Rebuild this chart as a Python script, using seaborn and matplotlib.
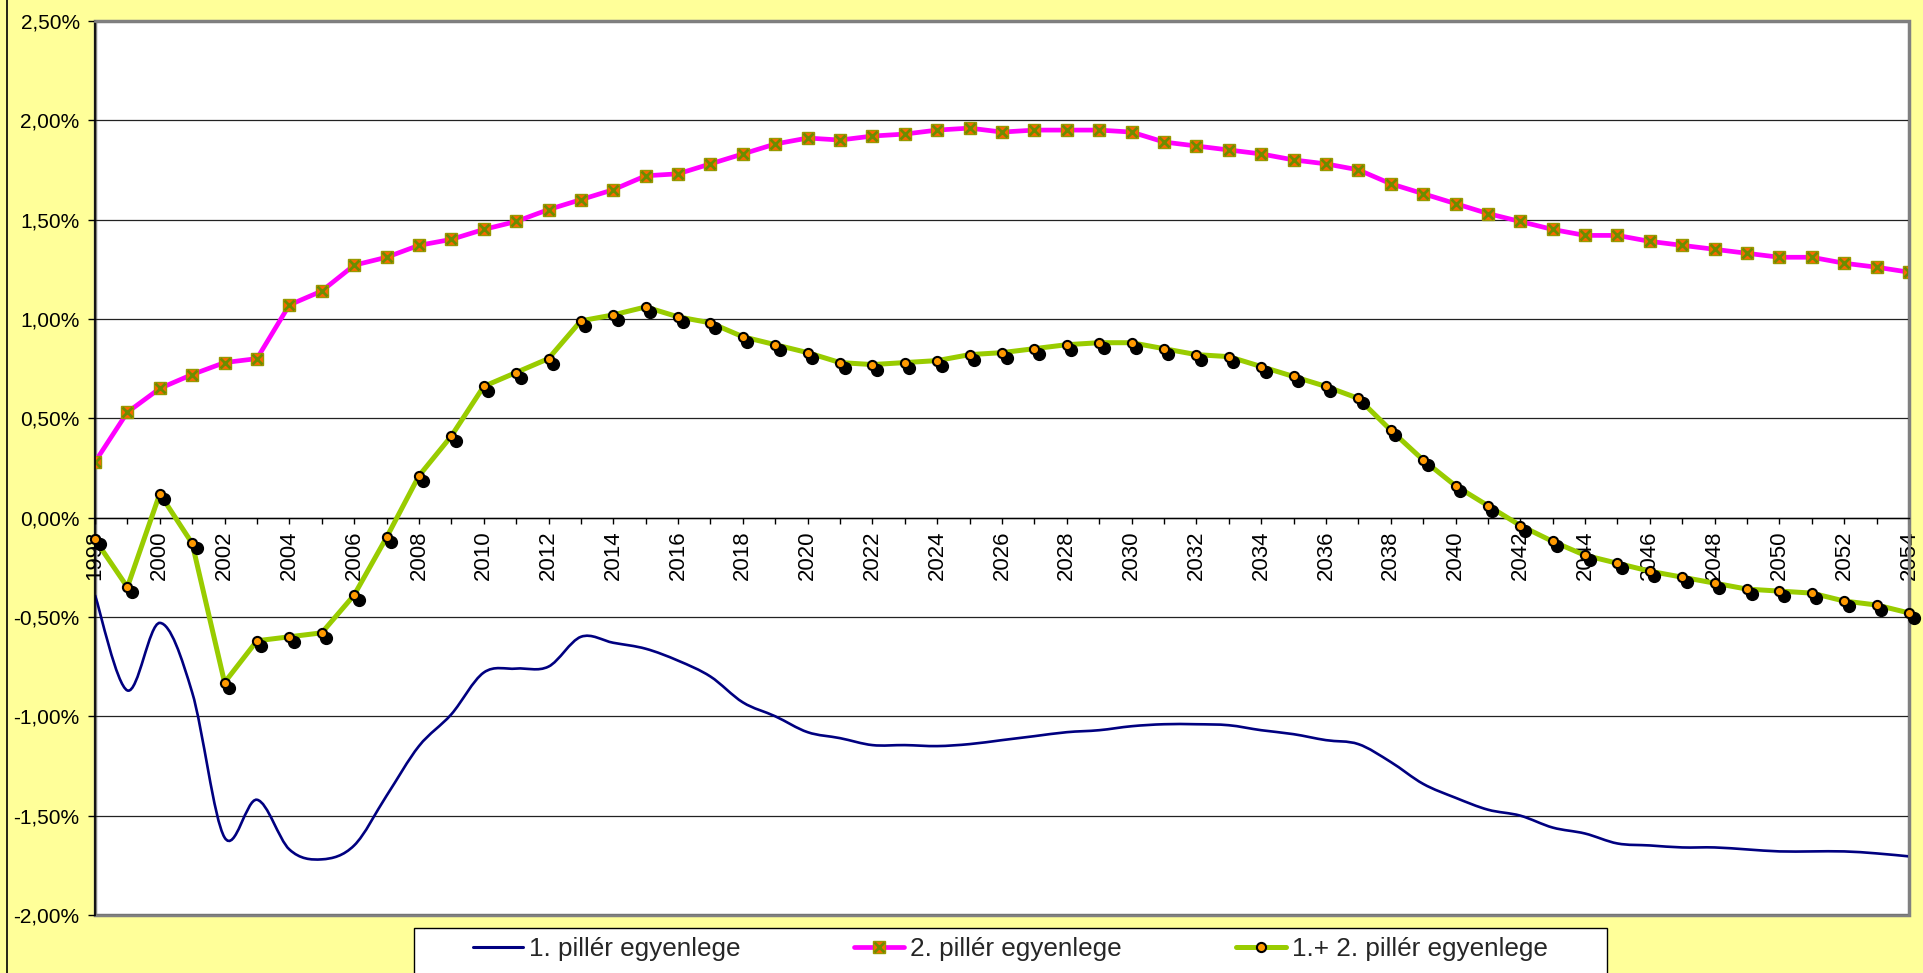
import numpy as np
import pandas as pd
import matplotlib
matplotlib.use("Agg")
import matplotlib.pyplot as plt
import seaborn as sns
from matplotlib.path import Path
from matplotlib.patches import PathPatch, Rectangle
from matplotlib.lines import Line2D
from matplotlib.ticker import MultipleLocator, FuncFormatter
from matplotlib.transforms import ScaledTranslation
from matplotlib.legend_handler import HandlerTuple

# ---------------- data ----------------
years = list(range(1998, 2055))

pillar1 = [-0.39, -0.87, -0.53, -0.88, -1.61, -1.42, -1.67, -1.72, -1.65, -1.40,
           -1.15, -0.99, -0.78, -0.76, -0.75, -0.60, -0.63, -0.66, -0.72, -0.80,
           -0.93, -1.00, -1.08, -1.11, -1.145, -1.145, -1.15, -1.14, -1.12, -1.10,
           -1.08, -1.07, -1.05, -1.04, -1.04, -1.045, -1.07, -1.09, -1.12, -1.14,
           -1.23, -1.34, -1.41, -1.47, -1.50, -1.56, -1.59, -1.64, -1.65, -1.66,
           -1.66, -1.67, -1.68, -1.68, -1.68, -1.69, -1.705]

pillar2 = [0.28, 0.53, 0.65, 0.72, 0.78, 0.80, 1.07, 1.14, 1.27, 1.31,
           1.37, 1.40, 1.45, 1.49, 1.55, 1.60, 1.65, 1.72, 1.73, 1.78,
           1.83, 1.88, 1.91, 1.90, 1.92, 1.93, 1.95, 1.96, 1.94, 1.95,
           1.95, 1.95, 1.94, 1.89, 1.87, 1.85, 1.83, 1.80, 1.78, 1.75,
           1.68, 1.63, 1.58, 1.53, 1.49, 1.45, 1.42, 1.42, 1.39, 1.37,
           1.35, 1.33, 1.31, 1.31, 1.28, 1.26, 1.235]

pillar12 = [-0.11, -0.35, 0.12, -0.13, -0.83, -0.62, -0.60, -0.58, -0.39, -0.10,
            0.21, 0.41, 0.66, 0.73, 0.80, 0.99, 1.02, 1.06, 1.01, 0.98,
            0.91, 0.87, 0.83, 0.78, 0.77, 0.78, 0.79, 0.82, 0.83, 0.85,
            0.87, 0.88, 0.88, 0.85, 0.82, 0.81, 0.76, 0.71, 0.66, 0.60,
            0.44, 0.29, 0.16, 0.06, -0.04, -0.12, -0.19, -0.23, -0.27, -0.30,
            -0.33, -0.36, -0.37, -0.38, -0.42, -0.44, -0.48]

series_labels = ["1. pillér egyenlege", "2. pillér egyenlege", "1.+ 2. pillér egyenlege"]
y_ticks = [-2.0, -1.5, -1.0, -0.5, 0.0, 0.5, 1.0, 1.5, 2.0, 2.5]

df = pd.DataFrame({"year": years, "p1": pillar1, "p2": pillar2, "p12": pillar12})

# ---------------- style ----------------
sns.set_theme(style="white")
plt.rcParams['font.family'] = ['Liberation Sans', 'DejaVu Sans']

BG = '#FFFF99'
BLUE = '#000080'
MAGENTA = '#FF00FF'
GREEN = '#99CC00'
ORANGE = '#FF9900'

W, H = 1924, 973
fig = plt.figure(figsize=(W / 100, H / 100), dpi=100, facecolor=BG)
left, right, top, bottom = 95, 1909, 20.8, 915
ax = fig.add_axes([left / W, 1 - bottom / H, (right - left) / W, (bottom - top) / H])
ax.set_facecolor('white')

# --- series 1: smooth curve (Excel-like smoothed line) ---
P = np.column_stack([np.array(years, float), np.array(pillar1, float)])
n = len(P)
verts = [P[0]]
codes = [Path.MOVETO]
for i in range(n - 1):
    p0 = P[i - 1] if i > 0 else P[i]
    p1 = P[i]
    p2 = P[i + 1]
    p3 = P[i + 2] if i + 2 < n else P[i + 1]
    verts += [p1 + (p2 - p0) / 6.0, p2 - (p3 - p1) / 6.0, p2]
    codes += [Path.CURVE4] * 3
ax.add_patch(PathPatch(Path(verts, codes), fill=False, edgecolor=BLUE, lw=1.9,
                       transform=ax.transData, zorder=2))

# --- series 2 ---
sns.lineplot(data=df, x="year", y="p2", ax=ax, color=MAGENTA, lw=3.4, zorder=2.2,
             legend=False)
ax.plot(years, pillar2, linestyle='none', marker='s', ms=8.0, mfc='#FF6600',
        mec='#999900', mew=1.0, zorder=2.3)
ax.plot(years, pillar2, linestyle='none', marker='x', ms=7.0, mec='#6B8E00',
        mew=2.0, zorder=2.4)

# --- series 3 ---
sns.lineplot(data=df, x="year", y="p12", ax=ax, color=GREEN, lw=3.6, zorder=3,
             legend=False)
shadow_tr = ax.transData + ScaledTranslation(4.5 / 100, -5 / 100, fig.dpi_scale_trans)
ax.plot(years, pillar12, linestyle='none', marker='o', ms=8.5, mfc='black',
        mec='black', transform=shadow_tr, zorder=3.1, clip_on=False)
ax.plot(years, pillar12, linestyle='none', marker='o', ms=6.6, mfc=ORANGE,
        mec='black', mew=1.5, zorder=3.2, clip_on=False)

# ---------------- axes ----------------
ax.set_xlim(1998, 2054)
ax.set_ylim(-2.0, 2.5)
ax.set_xlabel("")
ax.set_ylabel("")
ax.set_yticks(y_ticks)
ax.yaxis.set_major_formatter(FuncFormatter(lambda v, p: f"{v:.2f}%".replace('.', ',')))
ax.xaxis.set_major_locator(MultipleLocator(2))
ax.xaxis.set_minor_locator(MultipleLocator(1))
ax.xaxis.set_major_formatter(FuncFormatter(lambda v, p: f"{int(round(v))}"))

ax.yaxis.grid(True, color='#222222', lw=0.9)
ax.xaxis.grid(False)
ax.set_axisbelow(True)

ax.spines['bottom'].set_position(('data', 0))
ax.spines['bottom'].set_color('black')
ax.spines['bottom'].set_linewidth(1.0)
ax.spines['left'].set_color('black')
ax.spines['left'].set_linewidth(1.2)
for s in ('top', 'right'):
    ax.spines[s].set_color('#808080')
    ax.spines[s].set_linewidth(2.0)
ax.patch.set_edgecolor('#808080')
ax.patch.set_linewidth(2.5)

ax.tick_params(axis='x', which='both', bottom=True, direction='out', length=4.3,
               width=1.0, color='black', pad=5, labelsize=16, labelrotation=90,
               labelcolor='black')
ax.tick_params(axis='y', which='major', left=True, direction='out', length=5,
               width=1.0, color='black', pad=6, labelsize=15, labelcolor='black')

# ---------------- legend ----------------
fig.add_artist(Rectangle((414 / W, -0.1), (1607 - 414) / W, 0.1 + (1 - 928 / H),
                         transform=fig.transFigure, facecolor='white',
                         edgecolor='black', lw=1.0, zorder=1))
fig.add_artist(Line2D([7 / W, 7 / W], [0, 1], transform=fig.transFigure,
                      color='black', lw=1.2))

h1 = Line2D([], [], color=BLUE, lw=2.2)
h2a = Line2D([], [], color=MAGENTA, lw=3.4)
h2b = Line2D([], [], linestyle='none', marker='s', ms=8.0, mfc='#FF6600', mec='#999900')
h2c = Line2D([], [], linestyle='none', marker='x', ms=7.0, mec='#6B8E00', mew=2.0)
h3 = Line2D([], [], color=GREEN, lw=3.6, marker='o', ms=6.6, mfc=ORANGE,
            mec='black', mew=1.5)
fig.legend([h1, (h2a, h2b, h2c), h3], series_labels,
           handler_map={tuple: HandlerTuple(ndivide=1, pad=0)},
           loc='upper left', bbox_to_anchor=(473 / W, 1 - 937 / H),
           bbox_transform=fig.transFigure, frameon=False, ncol=3,
           fontsize=18.8, handlelength=1.92, handletextpad=0.23,
           columnspacing=4.35, borderpad=0, borderaxespad=0)

fig.savefig("out.png", dpi=100, facecolor=BG)
